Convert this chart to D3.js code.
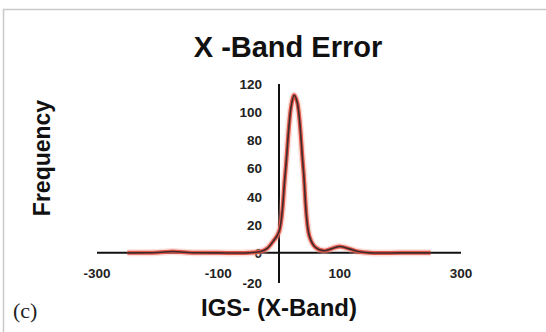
<!DOCTYPE html>
<html>
<head>
<meta charset="utf-8">
<script src="https://cdn.jsdelivr.net/npm/d3@7"></script>
<style>
  body { margin: 0; background: #fff; }
  svg { display: block; }
</style>
</head>
<body>
<div id="chart"></div>
<script>
const W = 546, H = 332;

// error bins (IGS - X-Band) and their frequency
const binCenters = [-250, -200, -175, -150, -100, -50, -30, -20, -10, 0, 10, 20, 25, 30, 40, 50, 60, 75, 90, 100, 115, 130, 150, 200, 250];
const frequency  = [0, 0.3, 1, 0.3, 0, 0, 1, 3, 8, 15, 55, 104, 112, 107, 60, 12, 4, 1.5, 3.5, 4.5, 3, 1, 0, 0, 0];

const xTicks = [-300, -100, 100, 300];
const yTicks = [0, 20, 40, 60, 80, 100, 120];
const yBottom = -20;

const svg = d3.select("#chart")
    .append("svg")
    .attr("width", W)
    .attr("height", H);

// frame
svg.append("rect")
    .attr("x", 3.5)
    .attr("y", 9.5)
    .attr("width", W + 10)
    .attr("height", H + 10)
    .attr("fill", "none")
    .attr("stroke", "#c9c9c9")
    .attr("stroke-width", 1.5);

const x = d3.scaleLinear()
    .domain([-300, 300])
    .range([97, 461]);

const y = d3.scaleLinear()
    .domain([-20, 120])
    .range([281, 84]);

// axes lines
svg.append("line")
    .attr("x1", x(-300)).attr("x2", x(300))
    .attr("y1", y(0)).attr("y2", y(0))
    .attr("stroke", "#111")
    .attr("stroke-width", 2);

svg.append("line")
    .attr("x1", x(0)).attr("x2", x(0))
    .attr("y1", y(120)).attr("y2", y(-21.5))
    .attr("stroke", "#111")
    .attr("stroke-width", 2);

const tickFont = "'Liberation Sans', Arial, sans-serif";

svg.selectAll(".ytick")
    .data(yTicks)
    .enter()
    .append("text")
    .attr("class", "ytick")
    .attr("x", 262)
    .attr("y", d => y(d) + 5)
    .attr("text-anchor", "end")
    .style("font-family", tickFont)
    .style("font-weight", "bold")
    .style("font-size", "13.5px")
    .style("fill", "#222")
    .text(d => d);

svg.append("text")
    .attr("x", 262)
    .attr("y", y(yBottom) + 7)
    .attr("text-anchor", "end")
    .style("font-family", tickFont)
    .style("font-weight", "bold")
    .style("font-size", "13.5px")
    .style("fill", "#222")
    .text(yBottom);

svg.selectAll(".xtick")
    .data(xTicks)
    .enter()
    .append("text")
    .attr("class", "xtick")
    .attr("x", d => x(d))
    .attr("y", y(0) + 25)
    .attr("text-anchor", "middle")
    .style("font-family", tickFont)
    .style("font-weight", "bold")
    .style("font-size", "13.5px")
    .style("fill", "#222")
    .text(d => d);

// the smoothed frequency curve
const pts = binCenters.map((b, i) => ({ b: b, f: frequency[i] }));

const line = d3.line()
    .x(d => x(d.b))
    .y(d => y(d.f))
    .curve(d3.curveCatmullRom.alpha(0.5));

svg.append("path")
    .datum(pts)
    .attr("d", line)
    .attr("fill", "none")
    .attr("stroke", "#f2a497")
    .attr("stroke-width", 7)
    .attr("opacity", 0.35);

svg.append("path")
    .datum(pts)
    .attr("d", line)
    .attr("fill", "none")
    .attr("stroke", "#e0574a")
    .attr("stroke-width", 4);

svg.append("path")
    .datum(pts)
    .attr("d", line)
    .attr("fill", "none")
    .attr("stroke", "#3d2a2a")
    .attr("stroke-width", 1.6);

// titles
svg.append("text")
    .attr("x", 288)
    .attr("y", 57)
    .attr("text-anchor", "middle")
    .style("font-family", "'Liberation Sans', Arial, sans-serif")
    .style("font-weight", "bold")
    .style("font-size", "29px")
    .style("fill", "#111")
    .text("X -Band Error");

svg.append("text")
    .attr("transform", "translate(50,158) rotate(-90)")
    .attr("text-anchor", "middle")
    .style("font-family", "'Liberation Sans', Arial, sans-serif")
    .style("font-weight", "bold")
    .style("font-size", "23px")
    .style("fill", "#111")
    .text("Frequency");

svg.append("text")
    .attr("x", 279)
    .attr("y", 316)
    .attr("text-anchor", "middle")
    .style("font-family", "'Liberation Sans', Arial, sans-serif")
    .style("font-weight", "bold")
    .style("font-size", "24px")
    .style("fill", "#111")
    .text("IGS- (X-Band)");

svg.append("text")
    .attr("x", 13)
    .attr("y", 318)
    .style("font-family", "'Liberation Serif', 'Times New Roman', serif")
    .style("font-size", "22px")
    .style("fill", "#222")
    .text("(c)");
</script>
</body>
</html>
